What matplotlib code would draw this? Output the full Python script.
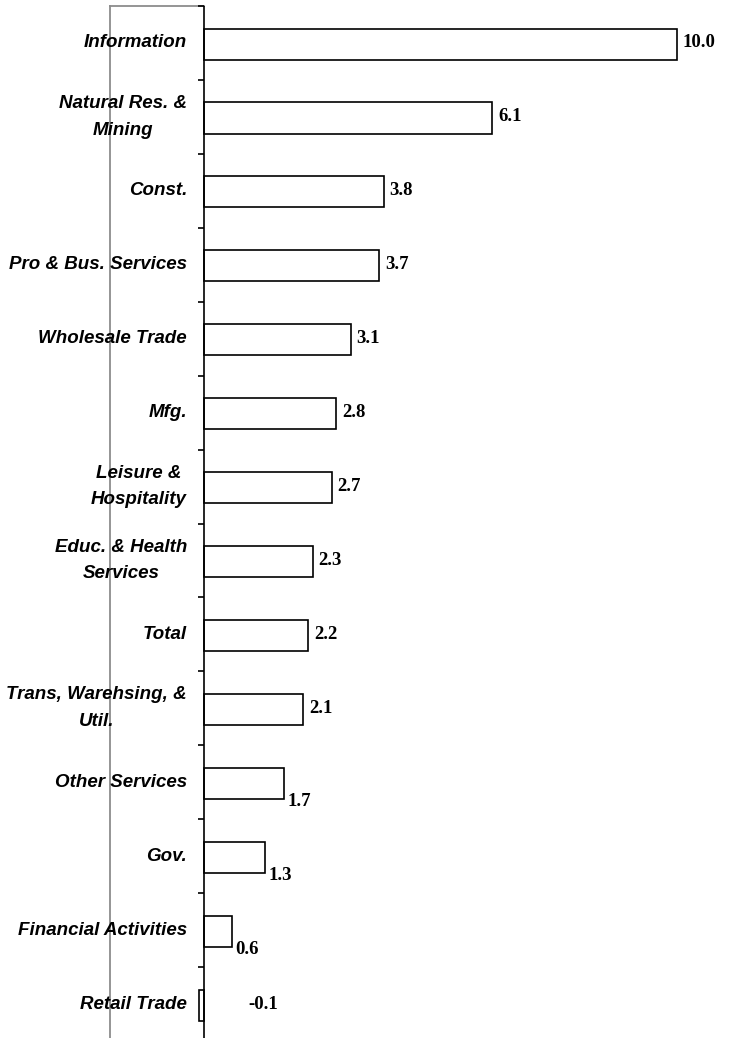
import numpy as np
import matplotlib.pyplot as plt
from matplotlib.transforms import offset_copy

# industries, top to bottom
labels = ["Information", "Natural Res. &\nMining", "Const.", "Pro & Bus. Services",
          "Wholesale Trade", "Mfg.", "Leisure &\nHospitality", "Educ. & Health\nServices",
          "Total", "Trans, Warehsing, &\nUtil.", "Other Services", "Gov.",
          "Financial Activities", "Retail Trade"]
values = [10.0, 6.1, 3.8, 3.7, 3.1, 2.8, 2.7, 2.3, 2.2, 2.1, 1.7, 1.3, 0.6, -0.1]

W, H = 732, 1038
fig = plt.figure(figsize=(W / 100, H / 100), dpi=100)
ax = fig.add_axes([110 / W, -3 / H, 1 - 110 / W, 1035 / H])

n = len(values)
y = np.arange(n)
px = 47.26  # pixels per unit
ax.set_xlim(-94 / px, (W - 204) / px)
ax.set_ylim(n - 0.5, -0.5)

ax.barh(y + 0.015, values, height=0.42, color="white", edgecolor="black", linewidth=1.2, zorder=3)

# axes frame: grey left edge, short grey top edge, black zero line with ticks
for s in ["right", "bottom", "top"]:
    ax.spines[s].set_visible(False)
ax.spines["left"].set_color("#8c8c8c")
ax.spines["left"].set_linewidth(1.3)
ax.plot([ax.get_xlim()[0], 0], [-0.5, -0.5], color="#8c8c8c", lw=1.3, clip_on=False)
ax.axvline(0, color="black", lw=1.2, zorder=4)
ax.hlines(np.arange(n + 1) - 0.5, -6 / px, 0, color="black", lw=1.2, clip_on=False)
ax.set_xticks([])
ax.set_yticks([])

lab_tr = offset_copy(ax.transData, fig=fig, x=-17, y=0, units="dots")
for i, lab in enumerate(labels):
    ax.text(0, i, lab, transform=lab_tr, ha="right", va="center", multialignment="center",
            fontsize=13.5, fontweight="bold", fontstyle="italic", family="Liberation Sans",
            linespacing=1.75)

serif = dict(fontsize=13.5, fontweight="bold", family="Liberation Serif")
for i, v in enumerate(values):
    if v < 0:
        ax.text(44 / px, i, f"{v:.1f}", ha="left", va="center", **serif)
    elif v < 2:
        tr = offset_copy(ax.transData, fig=fig, x=3, y=-19, units="dots")
        ax.text(v, i, f"{v:.1f}", transform=tr, ha="left", va="center", **serif)
    else:
        tr = offset_copy(ax.transData, fig=fig, x=6, y=0, units="dots")
        ax.text(v, i, f"{v:.1f}", transform=tr, ha="left", va="center", **serif)

fig.savefig("out.png", dpi=100)
